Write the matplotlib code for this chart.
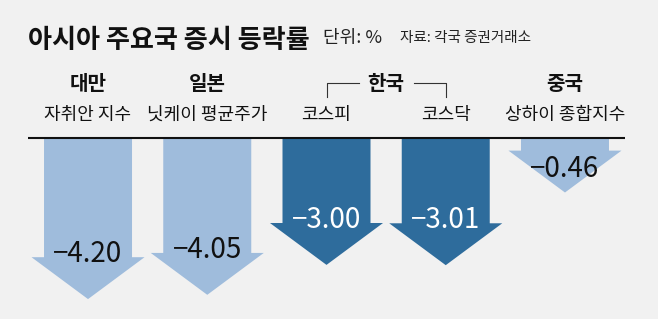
import matplotlib
matplotlib.use("Agg")
import matplotlib.pyplot as plt
from matplotlib.patches import Polygon
from matplotlib.transforms import blended_transform_factory

plt.rcParams['font.family'] = ['Noto Sans CJK KR', 'DejaVu Sans']

# Data
countries = ['대만', '일본', '한국', '한국', '중국']
indices = ['자취안 지수', '닛케이 평균주가', '코스피', '코스닥', '상하이 종합지수']
changes = [-4.20, -4.05, -3.00, -3.01, -0.46]
is_korea = [False, False, True, True, False]

title = '아시아 주요국 증시 등락률'
unit_note = '단위: %'
source_note = '자료: 각국 증권거래소'

BG = '#f1f1f1'
LIGHT = '#9fbcdc'
DARK = '#2e6c9c'

W, H = 658, 319
fig = plt.figure(figsize=(W / 100, H / 100), dpi=100, facecolor=BG)

# Axes: top edge is the zero line, 28.5 px per percentage point
ax_left, ax_right = 28.4, 624.6
zero_px = 137.5
px_per_unit = 28.5
ax = fig.add_axes([ax_left / W, 0, (ax_right - ax_left) / W, (H - zero_px) / H])
ax.set_xlim(-0.5, len(changes) - 0.5)
ax.set_ylim(-(H - zero_px) / px_per_unit, 0)
ax.set_facecolor(BG)
ax.axis('off')

shaft_half = 0.369
head_half = 0.474
head_len = 1.47
gap = 0.05

for i, v in enumerate(changes):
    color = DARK if is_korea[i] else LIGHT
    pts = [
        (i - shaft_half, -gap),
        (i + shaft_half, -gap),
        (i + shaft_half, v),
        (i + head_half, v),
        (i, v - head_len),
        (i - head_half, v),
        (i - shaft_half, v),
    ]
    ax.add_patch(Polygon(pts, closed=True, facecolor=color, edgecolor='none'))
    label_y = min(v + 0.12, -1.12)
    ax.text(i, label_y, f'\u2212{abs(v):.2f}', ha='center', va='center',
            fontsize=20, color='white' if is_korea[i] else '#111111')

# zero line
ax.plot([-0.5, len(changes) - 0.5], [0, 0], color='#111111', lw=1.5,
        clip_on=False, solid_capstyle='butt')

# Header texts
def fy(px):
    return 1 - px / H

fig.text(28 / W, fy(40), title, fontsize=18.8, fontweight='bold',
         ha='left', va='center', color='#111111')
fig.text(323 / W, fy(38), unit_note, fontsize=13, ha='left', va='center',
         color='#222222')
fig.text(400 / W, fy(38), source_note, fontsize=10.5, ha='left', va='center',
         color='#222222')

trans = blended_transform_factory(ax.transData, fig.transFigure)

# Country labels (Korea spans two indices)
drawn = set()
for i, c in enumerate(countries):
    if c in drawn:
        continue
    idx = [j for j, cc in enumerate(countries) if cc == c]
    xc = sum(idx) / len(idx)
    ax.text(xc, fy(83), c, transform=trans, ha='center', va='center',
            fontsize=14.5, fontweight='bold', color='#111111', clip_on=False)
    drawn.add(c)
    if len(idx) > 1:
        x0, x1 = idx[0], idx[-1]
        y_top, y_bot = fy(83), fy(97)
        ax.plot([x0, x0, x0 + 0.27], [y_bot, y_top, y_top], transform=trans,
                color='#333333', lw=0.8, clip_on=False)
        ax.plot([x1 - 0.27, x1, x1], [y_top, y_top, y_bot], transform=trans,
                color='#333333', lw=0.8, clip_on=False)

for i, name in enumerate(indices):
    ax.text(i, fy(115), name, transform=trans, ha='center', va='center',
            fontsize=13, color='#111111', clip_on=False)

fig.savefig('out.png', dpi=100, facecolor=BG)
